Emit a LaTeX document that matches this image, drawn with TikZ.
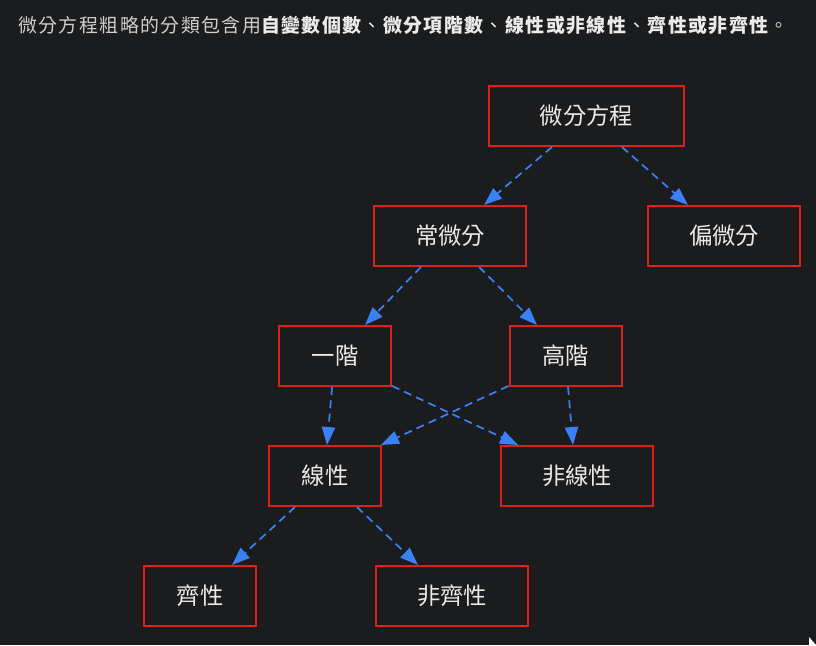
\documentclass[tikz,border=0pt]{standalone}
\usepackage{fontspec}
\setmainfont{Noto Sans CJK TC}
\usetikzlibrary{arrows.meta}
\definecolor{bgc}{HTML}{1B1C1E}
\definecolor{boxred}{HTML}{E01E1E}
\definecolor{flowblue}{HTML}{3A80F6}
\definecolor{txt}{HTML}{EAEAEA}
\definecolor{captxt}{HTML}{CFCFCF}
\begin{document}
\begin{tikzpicture}[x=0.75pt,y=-0.75pt,
  box/.style={draw=boxred, line width=1.5pt, minimum height=45pt, inner sep=0pt,
    text=txt, font=\fontsize{17.5pt}{20pt}\selectfont},
  wide/.style={box, minimum width=146pt},
  mid/.style={box, minimum width=114pt},
  narrow/.style={box, minimum width=84pt},
  flow/.style={draw=flowblue, line width=1.3pt, dash pattern=on 6pt off 4pt,
    -{Triangle[length=13.5pt,width=10pt]}}]
\fill[bgc] (0,0) rectangle (816,645);

% caption line
\node[anchor=west, inner sep=0pt, text=captxt,
  font=\fontsize{14.2pt}{17pt}\selectfont\addfontfeatures{LetterSpace=7.5}] (cap) at (18,25)
  {微分方程粗略的分類包含用\textcolor{txt}{\textbf{自變數個數}、\textbf{微分項階數}、\textbf{線性或非線性}、\textbf{齊性或非齊性}}。};

% nodes
\node[wide]   (de)   at (586.5,116) {微分方程};
\node[mid]    (ode)  at (450,236)   {常微分};
\node[mid]    (pde)  at (724,236)   {偏微分};
\node[narrow] (one)  at (335,356)   {一階};
\node[narrow] (high) at (565.5,356) {高階};
\node[narrow] (lin)  at (325,476)   {線性};
\node[mid]    (nlin) at (577,476)   {非線性};
\node[narrow] (hom)  at (200,596)   {齊性};
\node[mid]    (nhom) at (452,596)   {非齊性};

% connectors
\draw[flow] ([xshift=-25.9pt]de.south)   -- ([xshift=25.5pt]ode.north);
\draw[flow] ([xshift=26.6pt]de.south)    -- ([xshift=-27pt]pde.north);
\draw[flow] ([xshift=-21.8pt]ode.south)  -- ([xshift=22.5pt]one.north);
\draw[flow] ([xshift=21.8pt]ode.south)   -- ([xshift=-21.4pt]high.north);
\draw[flow] ([xshift=-2.2pt]one.south)   -- ([xshift=1.5pt]lin.north);
\draw[flow] ([yshift=0.8pt]one.south east) -- ([xshift=-44.2pt]nlin.north);
\draw[flow] ([yshift=0.8pt]high.south west) -- ([xshift=-0.8pt]lin.north east);
\draw[flow] ([xshift=1.9pt]high.south)   -- ([xshift=-3pt]nlin.north);
\draw[flow] ([xshift=-22.5pt]lin.south)  -- ([xshift=24pt]hom.north);
\draw[flow] ([xshift=24pt]lin.south)     -- ([xshift=-25.5pt]nhom.north);

% window resize grip
\fill[white] (809,637) -- (809,645) -- (816,645) -- cycle;
\end{tikzpicture}
\end{document}
